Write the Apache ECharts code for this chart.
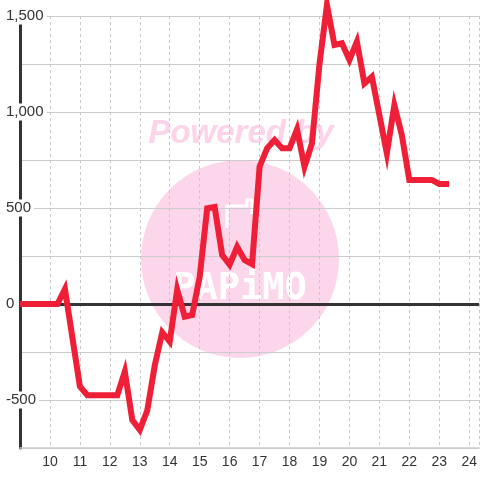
<!DOCTYPE html>
<html>
<head>
<meta charset="utf-8">
<script src="https://cdn.jsdelivr.net/npm/echarts@6/dist/echarts.min.js"></script>
<style>
html,body{margin:0;padding:0;background:#fff;}
#c{width:480px;height:480px;}
</style>
</head>
<body>
<div id="c"></div>
<script>
// Hours of day (x) and values (y)
const hours = [9,9.25,9.5,9.75,10,10.25,10.5,11,11.25,11.5,11.75,12,12.25,12.5,12.75,13,13.25,13.5,13.75,14,14.25,14.5,14.75,15,15.25,15.5,15.75,16,16.25,16.5,16.75,17,17.25,17.5,17.75,18,18.25,18.5,18.75,19,19.25,19.5,19.75,20,20.25,20.5,20.75,21.25,21.5,21.75,22,22.25,22.5,22.75,23,23.33];
const values = [0,0,0,0,0,0,78,-430,-475,-475,-475,-475,-475,-352,-604,-656,-555,-320,-148,-196,75,-66,-57,142,498,505,255,205,298,229,208,715,811,854,811,811,910,715,837,1250,1557,1349,1358,1271,1366,1149,1184,785,1036,880,646,646,646,646,625,625];
const xTickLabels = [10,11,12,13,14,15,16,17,18,19,20,21,22,23,24];
const yTickLabels = [-500,0,500,1000,1500];
const watermarkTop = 'Powered by';
const watermarkLogo = 'PAPiMO';

const chart = echarts.init(document.getElementById('c'), null, {renderer:'canvas'});
const seriesData = hours.map((h,i)=>[h, values[i]]);
const font = '"Liberation Sans", Arial, sans-serif';

chart.setOption({
  backgroundColor:'#ffffff',
  animation:false,
  graphic:[
    {type:'circle', z:-10, shape:{cx:240, cy:259, r:99}, style:{fill:'#fcd6ea'}},
    {type:'text', z:-10, x:241, y:134, style:{text:watermarkTop, font:'italic bold 33px "Liberation Sans", Arial', fill:'#fcd3e9', align:'center', verticalAlign:'middle'}},
    {type:'text', z:-9, x:240, y:289, style:{text:watermarkLogo, font:'bold 37px "DejaVu Sans Mono", monospace', fill:'#ffffff', align:'center', verticalAlign:'middle'}},
    {type:'polyline', z:-9, shape:{points:[[227,228],[227,206],[247,206],[247,200],[252,200],[252,214]]}, style:{stroke:'#ffffff', lineWidth:3, fill:null}}
  ],
  grid:{left:20, right:0, top:16, bottom:32, containLabel:false},
  xAxis:{
    type:'value', min:9, max:24.33, interval:1,
    axisLine:{onZero:false, lineStyle:{color:'#cccccc', width:1.5}},
    axisTick:{show:false},
    splitLine:{show:true, lineStyle:{color:'#c8c8c8', width:1, type:[3,3]}},
    axisLabel:{
      color:'#333', fontSize:14, fontFamily:font, margin:7,
      showMaxLabel:false,
      formatter:v=> xTickLabels.indexOf(Math.round(v*100)/100) >= 0 ? String(v) : ''
    }
  },
  yAxis:{
    type:'value', min:-750, max:1500, interval:250,
    axisLine:{show:true, lineStyle:{color:'#333333', width:3}},
    axisTick:{show:false},
    splitLine:{show:true, lineStyle:{color:'#cccccc', width:1}},
    axisLabel:{
      align:'left', margin:14,
      formatter:v=> yTickLabels.indexOf(v) >= 0 ? '{a|' + v.toLocaleString('en-US') + '}' : '',
      rich:{a:{color:'#333', fontSize:15, fontFamily:font, backgroundColor:'#ffffff', padding:[1,3,1,0]}}
    }
  },
  series:[{
    type:'line',
    data:seriesData,
    showSymbol:false,
    symbol:'none',
    clip:false,
    lineStyle:{color:'#ee1f36', width:6, join:'miter'},
    itemStyle:{color:'#ee1f36'},
    z:3,
    markLine:{
      silent:true, z:1, symbol:['none','none'],
      label:{show:false},
      lineStyle:{color:'#333333', width:3, type:'solid'},
      data:[{yAxis:0}]
    }
  }]
});
</script>
</body>
</html>
